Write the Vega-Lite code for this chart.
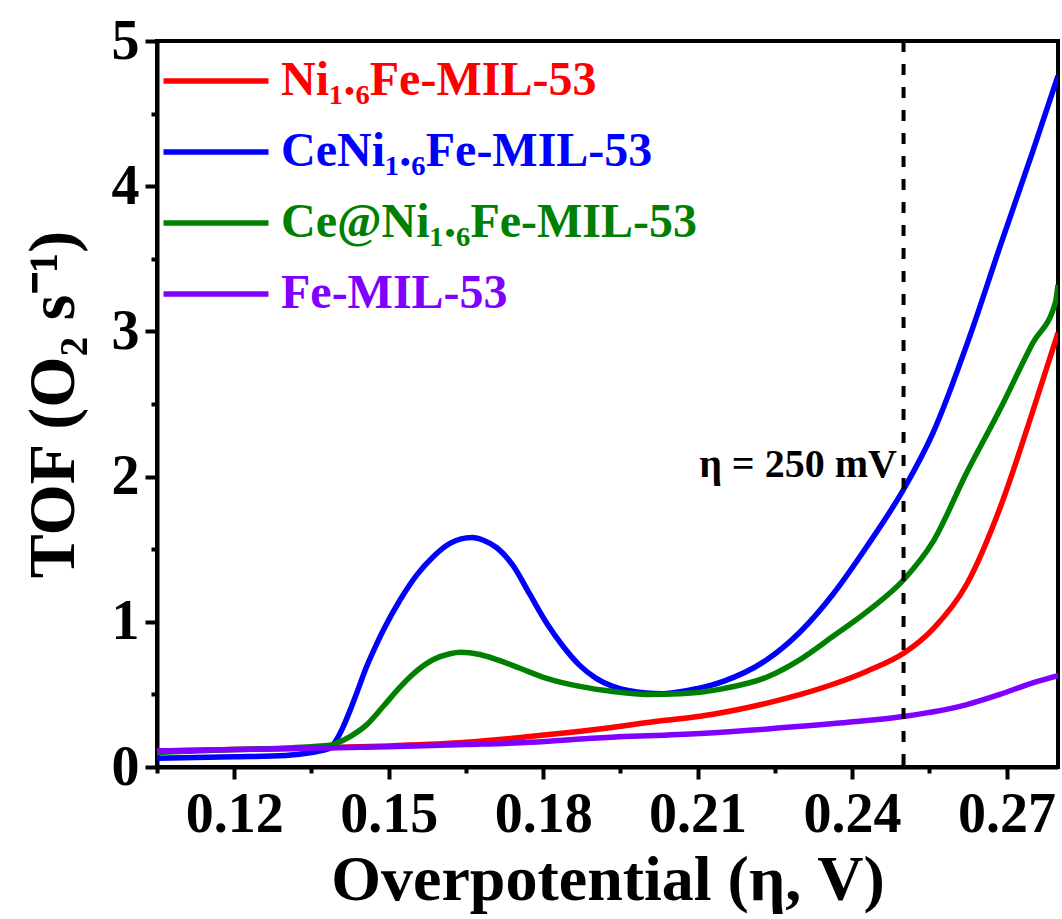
{
  "$schema": "https://vega.github.io/schema/vega-lite/v6.json",
  "width": 901,
  "height": 726,
  "autosize": "none",
  "padding": {"left": 157, "top": 41, "right": 4, "bottom": 152},
  "background": "white",
  "config": {
    "font": "Liberation Serif",
    "view": {"stroke": "black", "strokeWidth": 4},
    "axis": {
      "domainColor": "black",
      "domainWidth": 4,
      "tickColor": "black",
      "tickWidth": 4,
      "grid": false,
      "labelFont": "Liberation Serif",
      "labelFontWeight": "bold",
      "labelFontSize": 56,
      "labelColor": "black",
      "titleFont": "Liberation Serif",
      "titleFontWeight": "bold",
      "titleColor": "black"
    }
  },
  "datasets": {
    "curves": [
      {"sample": "Ni₁.₆Fe-MIL-53", "x": 0.105, "y": 0.11},
      {"sample": "Ni₁.₆Fe-MIL-53", "x": 0.12, "y": 0.12},
      {"sample": "Ni₁.₆Fe-MIL-53", "x": 0.135, "y": 0.13},
      {"sample": "Ni₁.₆Fe-MIL-53", "x": 0.15, "y": 0.145},
      {"sample": "Ni₁.₆Fe-MIL-53", "x": 0.165, "y": 0.17},
      {"sample": "Ni₁.₆Fe-MIL-53", "x": 0.1774, "y": 0.21},
      {"sample": "Ni₁.₆Fe-MIL-53", "x": 0.1905, "y": 0.26},
      {"sample": "Ni₁.₆Fe-MIL-53", "x": 0.2033, "y": 0.32},
      {"sample": "Ni₁.₆Fe-MIL-53", "x": 0.2105, "y": 0.35},
      {"sample": "Ni₁.₆Fe-MIL-53", "x": 0.2235, "y": 0.44},
      {"sample": "Ni₁.₆Fe-MIL-53", "x": 0.23, "y": 0.5},
      {"sample": "Ni₁.₆Fe-MIL-53", "x": 0.2363, "y": 0.57},
      {"sample": "Ni₁.₆Fe-MIL-53", "x": 0.2429, "y": 0.66},
      {"sample": "Ni₁.₆Fe-MIL-53", "x": 0.2503, "y": 0.79},
      {"sample": "Ni₁.₆Fe-MIL-53", "x": 0.2557, "y": 0.95},
      {"sample": "Ni₁.₆Fe-MIL-53", "x": 0.2623, "y": 1.26},
      {"sample": "Ni₁.₆Fe-MIL-53", "x": 0.2687, "y": 1.78},
      {"sample": "Ni₁.₆Fe-MIL-53", "x": 0.2751, "y": 2.45},
      {"sample": "Ni₁.₆Fe-MIL-53", "x": 0.28, "y": 2.99},

      {"sample": "CeNi₁.₆Fe-MIL-53", "x": 0.105, "y": 0.06},
      {"sample": "CeNi₁.₆Fe-MIL-53", "x": 0.12, "y": 0.07},
      {"sample": "CeNi₁.₆Fe-MIL-53", "x": 0.13, "y": 0.08},
      {"sample": "CeNi₁.₆Fe-MIL-53", "x": 0.135, "y": 0.1},
      {"sample": "CeNi₁.₆Fe-MIL-53", "x": 0.1386, "y": 0.13},
      {"sample": "CeNi₁.₆Fe-MIL-53", "x": 0.1399, "y": 0.19},
      {"sample": "CeNi₁.₆Fe-MIL-53", "x": 0.1412, "y": 0.28},
      {"sample": "CeNi₁.₆Fe-MIL-53", "x": 0.1425, "y": 0.39},
      {"sample": "CeNi₁.₆Fe-MIL-53", "x": 0.1438, "y": 0.51},
      {"sample": "CeNi₁.₆Fe-MIL-53", "x": 0.1457, "y": 0.69},
      {"sample": "CeNi₁.₆Fe-MIL-53", "x": 0.1477, "y": 0.85},
      {"sample": "CeNi₁.₆Fe-MIL-53", "x": 0.149, "y": 0.945},
      {"sample": "CeNi₁.₆Fe-MIL-53", "x": 0.1522, "y": 1.15},
      {"sample": "CeNi₁.₆Fe-MIL-53", "x": 0.1554, "y": 1.32},
      {"sample": "CeNi₁.₆Fe-MIL-53", "x": 0.1587, "y": 1.45},
      {"sample": "CeNi₁.₆Fe-MIL-53", "x": 0.1619, "y": 1.54},
      {"sample": "CeNi₁.₆Fe-MIL-53", "x": 0.1662, "y": 1.58},
      {"sample": "CeNi₁.₆Fe-MIL-53", "x": 0.1685, "y": 1.56},
      {"sample": "CeNi₁.₆Fe-MIL-53", "x": 0.171, "y": 1.51},
      {"sample": "CeNi₁.₆Fe-MIL-53", "x": 0.1741, "y": 1.39},
      {"sample": "CeNi₁.₆Fe-MIL-53", "x": 0.1774, "y": 1.19},
      {"sample": "CeNi₁.₆Fe-MIL-53", "x": 0.1807, "y": 0.99},
      {"sample": "CeNi₁.₆Fe-MIL-53", "x": 0.1839, "y": 0.83},
      {"sample": "CeNi₁.₆Fe-MIL-53", "x": 0.1871, "y": 0.7},
      {"sample": "CeNi₁.₆Fe-MIL-53", "x": 0.1903, "y": 0.61},
      {"sample": "CeNi₁.₆Fe-MIL-53", "x": 0.1935, "y": 0.555},
      {"sample": "CeNi₁.₆Fe-MIL-53", "x": 0.1967, "y": 0.525},
      {"sample": "CeNi₁.₆Fe-MIL-53", "x": 0.2, "y": 0.51},
      {"sample": "CeNi₁.₆Fe-MIL-53", "x": 0.2033, "y": 0.505},
      {"sample": "CeNi₁.₆Fe-MIL-53", "x": 0.2099, "y": 0.54},
      {"sample": "CeNi₁.₆Fe-MIL-53", "x": 0.215, "y": 0.59},
      {"sample": "CeNi₁.₆Fe-MIL-53", "x": 0.2235, "y": 0.74},
      {"sample": "CeNi₁.₆Fe-MIL-53", "x": 0.2299, "y": 0.93},
      {"sample": "CeNi₁.₆Fe-MIL-53", "x": 0.2363, "y": 1.19},
      {"sample": "CeNi₁.₆Fe-MIL-53", "x": 0.2429, "y": 1.52},
      {"sample": "CeNi₁.₆Fe-MIL-53", "x": 0.2503, "y": 1.93},
      {"sample": "CeNi₁.₆Fe-MIL-53", "x": 0.2557, "y": 2.3},
      {"sample": "CeNi₁.₆Fe-MIL-53", "x": 0.2629, "y": 2.97},
      {"sample": "CeNi₁.₆Fe-MIL-53", "x": 0.2687, "y": 3.58},
      {"sample": "CeNi₁.₆Fe-MIL-53", "x": 0.2751, "y": 4.24},
      {"sample": "CeNi₁.₆Fe-MIL-53", "x": 0.28, "y": 4.76},

      {"sample": "Ce@Ni₁.₆Fe-MIL-53", "x": 0.105, "y": 0.1},
      {"sample": "Ce@Ni₁.₆Fe-MIL-53", "x": 0.12, "y": 0.12},
      {"sample": "Ce@Ni₁.₆Fe-MIL-53", "x": 0.135, "y": 0.14},
      {"sample": "Ce@Ni₁.₆Fe-MIL-53", "x": 0.1386, "y": 0.15},
      {"sample": "Ce@Ni₁.₆Fe-MIL-53", "x": 0.1399, "y": 0.165},
      {"sample": "Ce@Ni₁.₆Fe-MIL-53", "x": 0.1425, "y": 0.21},
      {"sample": "Ce@Ni₁.₆Fe-MIL-53", "x": 0.1457, "y": 0.29},
      {"sample": "Ce@Ni₁.₆Fe-MIL-53", "x": 0.149, "y": 0.42},
      {"sample": "Ce@Ni₁.₆Fe-MIL-53", "x": 0.1522, "y": 0.55},
      {"sample": "Ce@Ni₁.₆Fe-MIL-53", "x": 0.1554, "y": 0.66},
      {"sample": "Ce@Ni₁.₆Fe-MIL-53", "x": 0.1587, "y": 0.74},
      {"sample": "Ce@Ni₁.₆Fe-MIL-53", "x": 0.1619, "y": 0.78},
      {"sample": "Ce@Ni₁.₆Fe-MIL-53", "x": 0.1639, "y": 0.79},
      {"sample": "Ce@Ni₁.₆Fe-MIL-53", "x": 0.1677, "y": 0.775},
      {"sample": "Ce@Ni₁.₆Fe-MIL-53", "x": 0.171, "y": 0.74},
      {"sample": "Ce@Ni₁.₆Fe-MIL-53", "x": 0.1755, "y": 0.68},
      {"sample": "Ce@Ni₁.₆Fe-MIL-53", "x": 0.1807, "y": 0.61},
      {"sample": "Ce@Ni₁.₆Fe-MIL-53", "x": 0.1871, "y": 0.555},
      {"sample": "Ce@Ni₁.₆Fe-MIL-53", "x": 0.1936, "y": 0.52},
      {"sample": "Ce@Ni₁.₆Fe-MIL-53", "x": 0.2002, "y": 0.5},
      {"sample": "Ce@Ni₁.₆Fe-MIL-53", "x": 0.2066, "y": 0.505},
      {"sample": "Ce@Ni₁.₆Fe-MIL-53", "x": 0.2105, "y": 0.515},
      {"sample": "Ce@Ni₁.₆Fe-MIL-53", "x": 0.215, "y": 0.54},
      {"sample": "Ce@Ni₁.₆Fe-MIL-53", "x": 0.2235, "y": 0.62},
      {"sample": "Ce@Ni₁.₆Fe-MIL-53", "x": 0.2299, "y": 0.74},
      {"sample": "Ce@Ni₁.₆Fe-MIL-53", "x": 0.2363, "y": 0.9},
      {"sample": "Ce@Ni₁.₆Fe-MIL-53", "x": 0.2429, "y": 1.07},
      {"sample": "Ce@Ni₁.₆Fe-MIL-53", "x": 0.2503, "y": 1.3},
      {"sample": "Ce@Ni₁.₆Fe-MIL-53", "x": 0.2557, "y": 1.55},
      {"sample": "Ce@Ni₁.₆Fe-MIL-53", "x": 0.2623, "y": 2.03},
      {"sample": "Ce@Ni₁.₆Fe-MIL-53", "x": 0.2687, "y": 2.46},
      {"sample": "Ce@Ni₁.₆Fe-MIL-53", "x": 0.2751, "y": 2.92},
      {"sample": "Ce@Ni₁.₆Fe-MIL-53", "x": 0.2795, "y": 3.2},
      {"sample": "Ce@Ni₁.₆Fe-MIL-53", "x": 0.28, "y": 3.32},

      {"sample": "Fe-MIL-53", "x": 0.105, "y": 0.11},
      {"sample": "Fe-MIL-53", "x": 0.12, "y": 0.12},
      {"sample": "Fe-MIL-53", "x": 0.135, "y": 0.13},
      {"sample": "Fe-MIL-53", "x": 0.15, "y": 0.14},
      {"sample": "Fe-MIL-53", "x": 0.165, "y": 0.155},
      {"sample": "Fe-MIL-53", "x": 0.1774, "y": 0.17},
      {"sample": "Fe-MIL-53", "x": 0.1905, "y": 0.2},
      {"sample": "Fe-MIL-53", "x": 0.2105, "y": 0.23},
      {"sample": "Fe-MIL-53", "x": 0.23, "y": 0.28},
      {"sample": "Fe-MIL-53", "x": 0.2429, "y": 0.32},
      {"sample": "Fe-MIL-53", "x": 0.2503, "y": 0.35},
      {"sample": "Fe-MIL-53", "x": 0.2623, "y": 0.43},
      {"sample": "Fe-MIL-53", "x": 0.2687, "y": 0.5},
      {"sample": "Fe-MIL-53", "x": 0.2751, "y": 0.58},
      {"sample": "Fe-MIL-53", "x": 0.28, "y": 0.63}
    ]
  },
  "layer": [
    {
      "data": {"name": "curves"},
      "mark": {"type": "line", "strokeWidth": 5.5, "interpolate": "monotone", "clip": true},
      "encoding": {
        "x": {
          "field": "x", "type": "quantitative",
          "scale": {"domain": [0.105, 0.28], "nice": false, "zero": false},
          "axis": {
            "title": "Overpotential (η, V)",
            "titleFontSize": 64,
            "titlePadding": 6,
            "values": [0.105, 0.12, 0.135, 0.15, 0.165, 0.18, 0.195, 0.21, 0.225, 0.24, 0.255, 0.27],
            "labelExpr": "abs((datum.value - 0.12) / 0.03 - round((datum.value - 0.12) / 0.03)) < 0.05 ? format(datum.value, '.2f') : ''",
            "tickSize": {"condition": {"test": "abs((datum.value - 0.12) / 0.03 - round((datum.value - 0.12) / 0.03)) < 0.05", "value": 12}, "value": 6},
            "labelPadding": 8,
            "labelFlush": false,
            "labelOverlap": false
          }
        },
        "y": {
          "field": "y", "type": "quantitative",
          "scale": {"domain": [0, 5], "nice": false},
          "axis": {
            "title": "TOF (O₂ s⁻¹)",
            "titleFontSize": 66,
            "titlePadding": 24,
            "values": [0, 0.5, 1, 1.5, 2, 2.5, 3, 3.5, 4, 4.5, 5],
            "labelExpr": "datum.value % 1 == 0 ? format(datum.value, 'd') : ''",
            "tickSize": {"condition": {"test": "datum.value % 1 == 0", "value": 12}, "value": 6},
            "labelPadding": 6,
            "labelFlush": false,
            "labelOverlap": false
          }
        },
        "color": {
          "field": "sample", "type": "nominal",
          "scale": {
            "domain": ["Ni₁.₆Fe-MIL-53", "CeNi₁.₆Fe-MIL-53", "Ce@Ni₁.₆Fe-MIL-53", "Fe-MIL-53"],
            "range": ["#FF0000", "#0000FF", "#008000", "#8000FF"]
          },
          "legend": {
            "orient": "none",
            "legendX": 35,
            "legendY": 16,
            "title": null,
            "symbolType": "M-4,0H4",
            "symbolSize": 689,
            "symbolStrokeWidth": 5.5,
            "labelFont": "Liberation Serif",
            "labelFontWeight": "bold",
            "labelFontSize": 48,
            "labelOffset": 41,
            "labelLimit": 0,
            "rowPadding": 23,
            "encode": {"labels": {"update": {"fill": {"scale": "color", "field": "value"}}}}
          }
        }
      }
    },
    {
      "data": {"values": [{}]},
      "mark": {"type": "rule", "strokeDash": [11, 12], "strokeWidth": 4, "color": "black"},
      "encoding": {"x": {"datum": 0.25}}
    },
    {
      "data": {"values": [{}]},
      "mark": {"type": "text", "align": "right", "baseline": "middle", "fontSize": 40, "fontWeight": "bold", "font": "Liberation Serif", "color": "black"},
      "encoding": {"x": {"datum": 0.2487}, "y": {"datum": 2.08}, "text": {"value": "η = 250 mV"}}
    }
  ]
}
